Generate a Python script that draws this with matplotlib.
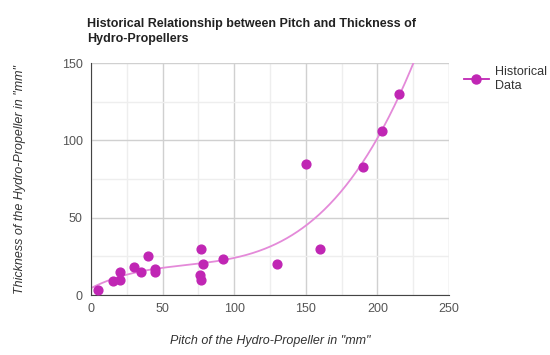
import matplotlib
matplotlib.use("Agg")
import matplotlib.pyplot as plt
import numpy as np

plt.rcParams["font.family"] = ["Liberation Sans", "DejaVu Sans"]

# pitch (mm) vs thickness (mm)
pitch = [5, 15, 20, 20, 30, 35, 40, 45, 45, 77, 78, 76, 77, 92, 130, 150, 160, 190, 203, 215]
thickness = [3, 9, 15, 10, 18, 15, 25, 17, 15, 30, 20, 13, 10, 23, 20, 85, 30, 83, 106, 130]

x_ticks = [0, 50, 100, 150, 200, 250]
y_ticks = [0, 50, 100, 150]

point_color = "#c026b4"
trend_color = "#e48ad9"

fig = plt.figure(figsize=(5.5, 3.55), dpi=100)
ax = fig.add_axes([0.1655, 0.169, 0.6509, 0.6535])

# cubic trendline fitted to the data
coef = np.polyfit(pitch, thickness, 3)
xs = np.linspace(0, 250, 400)
ax.plot(xs, np.polyval(coef, xs), color=trend_color, lw=1.3, zorder=2)
ax.scatter(pitch, thickness, s=40, color=point_color, zorder=3, clip_on=False)

ax.set_xlim(0, 250)
ax.set_ylim(0, 150)
ax.set_xticks(x_ticks)
ax.set_yticks(y_ticks)
ax.set_xticks([25, 75, 125, 175, 225], minor=True)
ax.set_yticks([25, 75, 125], minor=True)
ax.grid(True, which="major", color="#d0d0d0", lw=1.0)
ax.grid(True, which="minor", color="#eeeeee", lw=1.0)
ax.set_axisbelow(True)
ax.tick_params(which="both", length=0, labelsize=9, colors="#555555", pad=6)
for side in ("top", "right"):
    ax.spines[side].set_visible(False)
ax.spines["left"].set_color("#444444")
ax.spines["bottom"].set_color("#444444")

ax.set_xlabel('Pitch of the Hydro-Propeller in "mm"', fontsize=9, style="italic",
              color="#333333", labelpad=14)
ax.set_ylabel('Thickness of the Hydro-Propeller in "mm"', fontsize=9, style="italic",
              color="#333333", labelpad=26)

fig.text(0.158, 0.95, "Historical Relationship between Pitch and Thickness of\nHydro-Propellers",
         fontsize=9, fontweight="bold", color="#222222", va="top", ha="left", linespacing=1.4)

ax.plot([], [], color=point_color, marker="o", ms=6.5, lw=1.3, label="Historical\nData")
ax.legend(loc="upper left", bbox_to_anchor=(1.02, 1.02), frameon=False, fontsize=9,
          handlelength=2.0, handletextpad=0.5, labelcolor="#333333", borderaxespad=0.2)

fig.savefig("out.png", dpi=100)
